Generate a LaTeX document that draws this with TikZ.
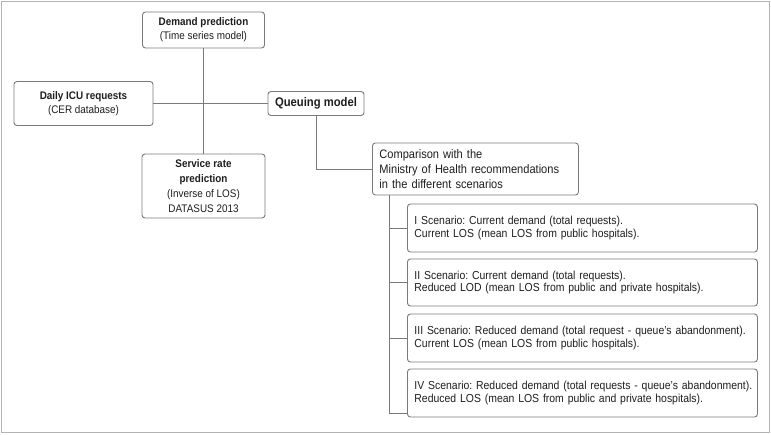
\documentclass[tikz,border=0pt]{standalone}
\usepackage{fontspec}
\setmainfont{Liberation Sans}[FakeStretch=0.9]
\usepackage{tikz}
\usetikzlibrary{positioning}
\definecolor{boxgray}{HTML}{7A7A7A}
\definecolor{framegray}{HTML}{B4B4B4}
\definecolor{inkgray}{HTML}{1E1E1E}
\frenchspacing
\tikzset{
    stepbox/.style={draw=boxgray, line width=0.9pt, rounded corners=3pt, fill=white,
        text=inkgray, align=center, inner sep=2pt},
    leftbox/.style={stepbox, align=left, anchor=west,
        execute at begin node={\hyphenpenalty=10000}},
    link/.style={draw=boxgray, line width=0.9pt}}

\begin{document}
\begin{tikzpicture}[x=1pt, y=-1pt]
        \useasboundingbox (0,0) rectangle (771,434);
        \draw[framegray, line width=1pt] (1,1) rectangle (769,432);

                    \node[stepbox, minimum width=122, minimum height=36, font=\fontsize{11}{14}\selectfont] (D) at (203.5,30) {\textbf{Demand prediction}\\(Time series model)};
                    \node[stepbox, minimum width=139, minimum height=44, font=\fontsize{11}{14.5}\selectfont] (C) at (83.5,103.5) {\textbf{Daily ICU requests}\\(CER database)};
                    \node[stepbox, minimum width=96, minimum height=24, font=\fontsize{12.5}{14}\selectfont\bfseries] (Q) at (316,103.5) {Queuing model};
                    \node[stepbox, minimum width=123, minimum height=64, font=\fontsize{11}{15}\selectfont] (S) at (203.5,186) {\textbf{Service rate}\\\textbf{prediction}\\(Inverse of LOS)\\DATASUS 2013};

                    \node[leftbox, text width=192, inner xsep=7, minimum height=52, font=\fontsize{12.3}{15}\selectfont] (M) at (372,169) {Comparison with the\\Ministry of Health recommendations\\in the different scenarios};

                    \node[leftbox, text width=340, inner xsep=5, minimum height=48, font=\fontsize{11.6}{12.5}\selectfont] (s1) at (407,228) {\hspace*{2pt}I Scenario: Current demand (total requests).\\\hspace*{2pt}Current LOS (mean LOS from public hospitals).};
                    \node[leftbox, text width=340, inner xsep=5, minimum height=47, font=\fontsize{11.6}{12.5}\selectfont] (s2) at (407,282.5) {\hspace*{2pt}II Scenario: Current demand (total requests).\\\hspace*{2pt}Reduced LOD (mean LOS from public and private hospitals).};
                    \node[leftbox, text width=340, inner xsep=5, minimum height=48, font=\fontsize{11.6}{12.5}\selectfont] (s3) at (407,338) {\hspace*{2pt}III Scenario: Reduced demand (total request - queue's abandonment).\\\hspace*{2pt}Current LOS (mean LOS from public hospitals).};
                    \node[leftbox, text width=340, inner xsep=5, minimum height=48, font=\fontsize{11.6}{12.5}\selectfont] (s4) at (407,393) {\hspace*{2pt}IV Scenario: Reduced demand (total requests - queue's abandonment).\\\hspace*{2pt}Reduced LOS (mean LOS from public and private hospitals).};

                    \coordinate (spine) at ([xshift=17pt]M.south west);
                    \coordinate (s4tick) at ([yshift=4pt]s4.south west);

                    \draw[link] (D) -- (S);
                    \draw[link] (C) -- (Q);
                    \draw[link] (Q) |- (M);
                    \draw[link] (spine) |- (s1.west);
                    \draw[link] (spine) |- (s2.west);
                    \draw[link] (spine) |- (s3.west);
                    \draw[link] (spine) |- (s4tick);

                \end{tikzpicture}
\end{document}
